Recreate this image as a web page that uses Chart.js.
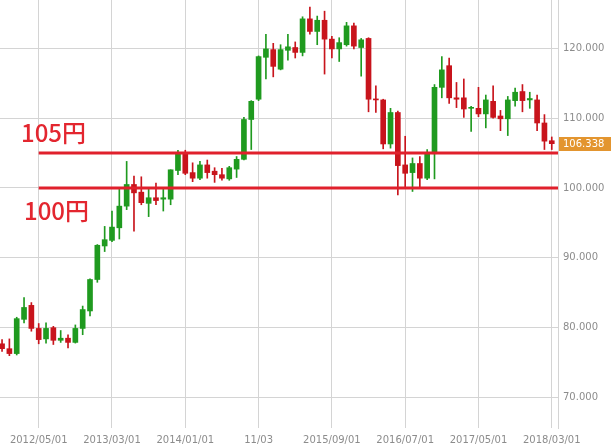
<!DOCTYPE html>
<html>
<head>
<meta charset="utf-8">
<script src="https://cdn.jsdelivr.net/npm/chart.js@4.4.0/dist/chart.umd.min.js"></script>
<style>
  html, body { margin: 0; padding: 0; background: #fff; }
  canvas { display: block; }
</style>
</head>
<body>
<canvas id="grafico" width="612" height="447"></canvas>
<script>
// Dados mensais USD/JPY
const months = [
  '2011/12',
  '2012/01', '2012/02', '2012/03', '2012/04', '2012/05', '2012/06', '2012/07', '2012/08', '2012/09', '2012/10', '2012/11', '2012/12',
  '2013/01', '2013/02', '2013/03', '2013/04', '2013/05', '2013/06', '2013/07', '2013/08', '2013/09', '2013/10', '2013/11', '2013/12',
  '2014/01', '2014/02', '2014/03', '2014/04', '2014/05', '2014/06', '2014/07', '2014/08', '2014/09', '2014/10', '2014/11', '2014/12',
  '2015/01', '2015/02', '2015/03', '2015/04', '2015/05', '2015/06', '2015/07', '2015/08', '2015/09', '2015/10', '2015/11', '2015/12',
  '2016/01', '2016/02', '2016/03', '2016/04', '2016/05', '2016/06', '2016/07', '2016/08', '2016/09', '2016/10', '2016/11', '2016/12',
  '2017/01', '2017/02', '2017/03', '2017/04', '2017/05', '2017/06', '2017/07', '2017/08', '2017/09', '2017/10', '2017/11', '2017/12',
  '2018/01', '2018/02', '2018/03'
];
const opens = [
  77.7,
  77.0, 76.3, 81.2, 83.2, 79.9, 78.4, 80.0, 78.2, 78.5, 77.9, 79.9, 82.4,
  86.9, 91.7, 92.5, 94.3, 97.4, 100.5, 99.4, 97.8, 98.6, 98.4, 98.4, 102.5,
  105.1, 102.2, 101.4, 103.3, 102.4, 101.9, 101.3, 102.7, 104.1, 109.8, 112.7, 118.7,
  119.8, 117.0, 119.7, 120.1, 119.4, 124.2, 122.4, 124.0, 121.3, 119.9, 120.5, 123.2,
  120.1, 121.4, 112.7, 112.6, 106.3, 110.8, 103.3, 102.2, 103.5, 101.4, 104.9, 114.4,
  117.5, 112.9, 112.9, 111.4, 111.4, 110.6, 112.4, 110.3, 109.9, 112.5, 113.8, 112.6,
  112.6, 109.3, 106.76
];
const highs = [
  78.3,
  78.4, 81.5, 84.3, 83.6, 80.6, 80.7, 80.2, 79.6, 79.0, 80.4, 83.1, 87.0,
  91.9, 94.5, 96.7, 99.8, 103.8, 101.7, 101.6, 99.8, 100.7, 99.8, 102.6, 105.4,
  105.4, 103.6, 103.8, 104.0, 102.9, 102.8, 103.1, 104.5, 110.1, 112.5, 118.9, 122.0,
  120.7, 120.5, 122.0, 120.9, 124.5, 125.9, 124.6, 125.3, 121.7, 121.5, 123.7, 123.6,
  121.4, 121.5, 114.6, 112.7, 111.4, 111.0, 107.4, 104.3, 104.5, 105.5, 114.8, 118.8,
  118.6, 115.1, 115.6, 111.7, 114.4, 113.3, 114.6, 111.1, 113.1, 114.3, 114.8, 113.7,
  113.3, 110.5, 107.3
];
const lows = [
  76.6,
  76.0, 76.1, 80.7, 79.5, 77.7, 77.8, 77.6, 77.9, 77.1, 77.8, 79.0, 81.7,
  86.5, 90.9, 92.3, 92.7, 96.9, 93.8, 97.6, 95.9, 97.6, 96.7, 97.6, 101.9,
  101.9, 100.9, 101.2, 101.4, 100.8, 101.1, 101.1, 101.5, 104.0, 105.5, 112.5, 115.6,
  115.9, 116.9, 118.3, 118.6, 118.9, 122.0, 120.5, 116.3, 118.6, 118.1, 120.3, 119.9,
  116.0, 110.9, 110.8, 105.6, 105.7, 99.0, 100.0, 99.5, 100.2, 101.2, 101.3, 112.9,
  112.1, 111.5, 110.1, 108.1, 110.2, 108.6, 110.0, 108.2, 107.5, 111.7, 110.9, 111.4,
  108.2, 105.5, 105.5
];
const closes = [
  77.0,
  76.3, 81.3, 82.9, 79.9, 78.3, 79.9, 78.2, 78.5, 77.9, 79.9, 82.6, 86.9,
  91.8, 92.6, 94.4, 97.4, 100.5, 99.3, 97.9, 98.6, 98.2, 98.6, 102.6, 105.1,
  102.1, 101.4, 103.3, 102.2, 101.9, 101.4, 102.9, 104.1, 109.8, 112.4, 118.8, 119.9,
  117.4, 119.8, 120.2, 119.4, 124.2, 122.4, 124.0, 121.3, 119.9, 120.8, 123.2, 120.3,
  121.2, 112.7, 112.6, 106.3, 110.8, 103.2, 102.1, 103.5, 101.4, 104.9, 114.4, 116.9,
  112.9, 112.7, 111.3, 111.5, 110.6, 112.6, 110.1, 109.9, 112.6, 113.7, 112.5, 112.8,
  109.3, 106.7, 106.338
];

// Rótulos do eixo X
const tickMonths = ['2012/05', '2013/03', '2014/01', '2014/11', '2015/09', '2016/07', '2017/05', '2018/03'];
const tickLabels = ['2012/05/01', '2013/03/01', '2014/01/01', '11/03', '2015/09/01', '2016/07/01', '2017/05/01', '2018/03/01'];
// Eixo Y
const yTicks = [70, 80, 90, 100, 110, 120];
// Linhas de referência
const refLevels = [105, 100];
const refNames = ['105円', '100円'];
const refStart = '2012/05';

const VERDE = '#1f9a1f';
const VERMELHO = '#c8141c';
const LINHA = '#e0202c';

const xMin = -0.28;
const xMax = 75.85;

const cores = closes.map((c, i) => (c >= opens[i] ? VERDE : VERMELHO));
const pavios = lows.map((l, i) => ({ x: i, y: [l, highs[i]] }));
const corpos = opens.map((o, i) => ({ x: i, y: [o, closes[i]] }));

const tickIdx = tickMonths.map(m => months.indexOf(m));
const startIdx = months.indexOf(refStart);

const linhas = refLevels.map(v => ({
  type: 'line',
  data: [{ x: startIdx, y: v }, { x: xMax, y: v }],
  borderColor: LINHA,
  borderWidth: 3,
  pointRadius: 0,
  fill: false,
  order: 0
}));

// Plugin: textos "105円 / 100円" e etiqueta do preço atual
const etiquetas = {
  id: 'etiquetas',
  afterDraw(chart) {
    const { ctx, chartArea, scales: { y } } = chart;
    ctx.save();
    ctx.font = '500 24px "Noto Sans CJK JP"';
    ctx.fillStyle = '#e3262f';
    ctx.textAlign = 'left';
    ctx.textBaseline = 'alphabetic';
    ctx.fillText(refNames[0], 21, y.getPixelForValue(refLevels[0]) - 11);
    ctx.fillText(refNames[1], 24, y.getPixelForValue(refLevels[1]) + 32);

    const ultimo = closes[closes.length - 1];
    const py = y.getPixelForValue(ultimo);
    ctx.fillStyle = '#e3952f';
    ctx.fillRect(chartArea.right + 1, Math.round(py) - 7, chart.width - chartArea.right - 2, 14);
    ctx.fillStyle = '#fff';
    ctx.font = '10px "DejaVu Sans"';
    ctx.textBaseline = 'middle';
    ctx.fillText(ultimo.toFixed(3), chartArea.right + 5, Math.round(py));
    ctx.restore();
  }
};

Chart.defaults.font.family = '"DejaVu Sans", sans-serif';
Chart.defaults.font.size = 10;
Chart.defaults.color = '#8c8c8c';

const ctx = document.getElementById('grafico').getContext('2d');
new Chart(ctx, {
  type: 'bar',
  data: {
    datasets: [
      ...linhas,
      {
        data: pavios,
        backgroundColor: cores,
        barThickness: 1,
        grouped: false,
        order: 2
      },
      {
        data: corpos,
        backgroundColor: cores,
        barThickness: 5,
        minBarLength: 1,
        grouped: false,
        order: 1
      }
    ]
  },
  options: {
    responsive: false,
    animation: false,
    layout: { padding: 0 },
    plugins: {
      legend: { display: false },
      tooltip: { enabled: false }
    },
    scales: {
      x: {
        type: 'linear',
        min: xMin,
        max: xMax,
        offset: false,
        afterBuildTicks: axis => { axis.ticks = tickIdx.map(v => ({ value: v })); },
        afterFit: axis => {
          axis.height = 19;
          axis.paddingLeft = 0;
          axis.paddingRight = 0;
        },
        ticks: {
          autoSkip: false,
          maxRotation: 0,
          padding: 6,
          color: '#8c8c8c',
          callback: (v) => tickLabels[tickIdx.indexOf(v)]
        },
        grid: { color: '#d4d4d4', drawTicks: false, offset: false },
        border: { display: false }
      },
      y: {
        position: 'right',
        min: 65.65,
        max: 126.9,
        afterBuildTicks: axis => { axis.ticks = yTicks.map(v => ({ value: v })); },
        afterFit: axis => {
          axis.width = 54;
          axis.paddingTop = 0;
          axis.paddingBottom = 0;
        },
        ticks: {
          padding: 5,
          color: '#8c8c8c',
          callback: v => v.toFixed(3)
        },
        grid: { color: '#d4d4d4', drawTicks: false },
        border: { display: true, color: '#d4d4d4' }
      }
    }
  },
  plugins: [etiquetas]
});
</script>
</body>
</html>
